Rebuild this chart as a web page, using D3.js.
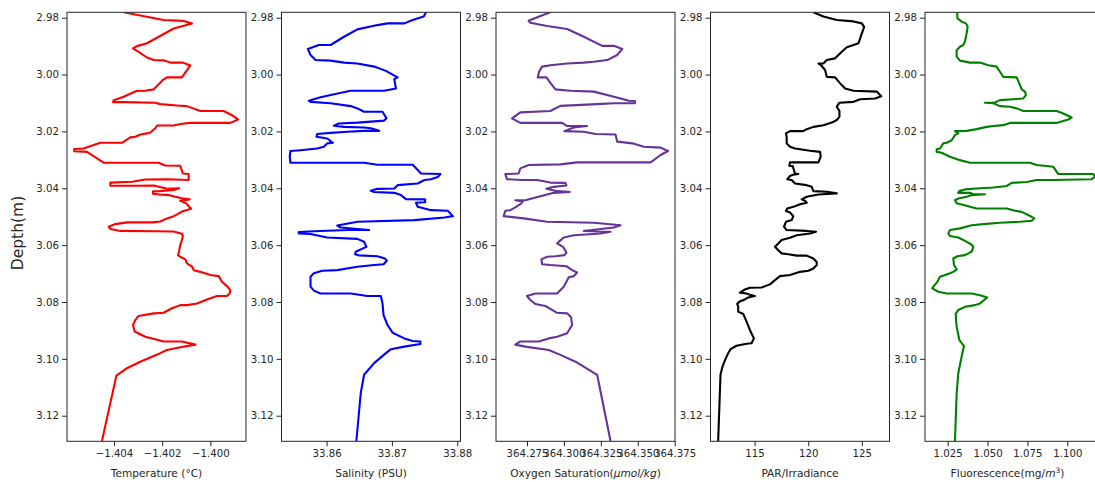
<!DOCTYPE html>
<html>
<head>
<meta charset="utf-8">
<script src="https://cdn.jsdelivr.net/npm/d3@7"></script>
<style>
  html, body { margin: 0; padding: 0; background: #fff; }
  svg { display: block; font-family: "DejaVu Sans", sans-serif; }
</style>
</head>
<body>
<svg id="chart" width="1095" height="482"></svg>
<script>
// ---- data: [depth (m), value] ----
const temperature = [
[2.9781,-1.40360],[2.9808,-1.40194],[2.9811,-1.40114],[2.9820,-1.40076],[2.9838,-1.40152],[2.9890,-1.40263],
[2.9900,-1.40305],[2.9908,-1.40321],[2.9920,-1.40298],[2.9940,-1.40263],[2.9949,-1.40235],[2.9950,-1.40194],
[2.9958,-1.40166],[2.9958,-1.40114],[2.9968,-1.40083],[3.0010,-1.40118],[3.0010,-1.40180],[3.0019,-1.40197],
[3.0052,-1.40235],[3.0057,-1.40270],[3.0058,-1.40307],[3.0078,-1.40360],[3.0090,-1.40401],[3.0097,-1.40404],
[3.0097,-1.40360],[3.0099,-1.40228],[3.0104,-1.40208],[3.0109,-1.40138],[3.0111,-1.40097],[3.0128,-1.40042],
[3.0128,-1.39945],[3.0143,-1.39910],[3.0158,-1.39885],[3.0170,-1.39917],[3.0170,-1.40083],[3.0174,-1.40125],
[3.0179,-1.40152],[3.0179,-1.40221],[3.0189,-1.40228],[3.0204,-1.40249],[3.0207,-1.40263],[3.0211,-1.40291],
[3.0219,-1.40311],[3.0221,-1.40332],[3.0240,-1.40367],[3.0240,-1.40457],[3.0260,-1.40526],[3.0262,-1.40565],
[3.0270,-1.40565],[3.0272,-1.40512],[3.0310,-1.40443],[3.0310,-1.40215],[3.0320,-1.40187],[3.0321,-1.40125],
[3.0348,-1.40114],[3.0350,-1.40090],[3.0371,-1.40090],[3.0368,-1.40180],[3.0369,-1.40270],[3.0377,-1.40325],
[3.0380,-1.40415],[3.0391,-1.40415],[3.0391,-1.40311],[3.0390,-1.40235],[3.0402,-1.40180],[3.0400,-1.40129],
[3.0406,-1.40152],[3.0410,-1.40208],[3.0411,-1.40238],[3.0419,-1.40238],[3.0422,-1.40208],[3.0424,-1.40173],
[3.0430,-1.40145],[3.0435,-1.40118],[3.0439,-1.40086],[3.0444,-1.40125],[3.0453,-1.40100],[3.0472,-1.40080],
[3.0482,-1.40118],[3.0492,-1.40138],[3.0498,-1.40152],[3.0506,-1.40180],[3.0517,-1.40208],[3.0520,-1.40235],
[3.0520,-1.40346],[3.0526,-1.40394],[3.0535,-1.40422],[3.0543,-1.40415],[3.0550,-1.40374],[3.0551,-1.40235],
[3.0552,-1.40152],[3.0560,-1.40118],[3.0567,-1.40114],[3.0582,-1.40118],[3.0600,-1.40125],[3.0618,-1.40129],
[3.0635,-1.40134],[3.0641,-1.40125],[3.0650,-1.40104],[3.0664,-1.40097],[3.0676,-1.40076],[3.0688,-1.40069],
[3.0694,-1.40042],[3.0705,-1.40000],[3.0709,-1.39965],[3.0729,-1.39952],[3.0744,-1.39931],[3.0758,-1.39917],
[3.0770,-1.39920],[3.0779,-1.39931],[3.0779,-1.39972],[3.0791,-1.40014],[3.0805,-1.40055],[3.0811,-1.40097],
[3.0811,-1.40125],[3.0822,-1.40159],[3.0838,-1.40194],[3.0840,-1.40235],[3.0849,-1.40298],[3.0863,-1.40311],
[3.0881,-1.40321],[3.0904,-1.40314],[3.0922,-1.40270],[3.0933,-1.40221],[3.0939,-1.40194],[3.0939,-1.40118],
[3.0950,-1.40062],[3.0959,-1.40125],[3.0969,-1.40180],[3.0980,-1.40208],[3.1010,-1.40291],[3.1033,-1.40346],
[3.1059,-1.40390],[3.1289,-1.40450]
];
const salinity = [
[2.9781,33.87523],[2.9796,33.87487],[2.9808,33.87318],[2.9820,33.87190],[2.9820,33.86933],[2.9826,33.86779],
[2.9841,33.86472],[2.9867,33.86267],[2.9896,33.86062],[2.9896,33.85882],[2.9910,33.85713],[2.9931,33.85754],
[2.9949,33.85831],[2.9951,33.86062],[2.9958,33.86267],[2.9961,33.86472],[2.9972,33.86728],[2.9987,33.86908],
[3.0010,33.87087],[3.0016,33.87036],[3.0049,33.87062],[3.0057,33.86882],[3.0057,33.86369],[3.0072,33.86062],
[3.0080,33.85908],[3.0092,33.85728],[3.0096,33.85754],[3.0101,33.86062],[3.0111,33.86369],[3.0119,33.86472],
[3.0131,33.86574],[3.0131,33.86856],[3.0154,33.86918],[3.0162,33.86882],[3.0169,33.86472],[3.0172,33.86190],
[3.0180,33.86113],[3.0184,33.86267],[3.0186,33.86574],[3.0189,33.86677],[3.0198,33.86805],[3.0198,33.86574],
[3.0201,33.86318],[3.0205,33.86062],[3.0209,33.85856],[3.0219,33.85846],[3.0225,33.86010],[3.0240,33.86097],
[3.0242,33.86010],[3.0254,33.85959],[3.0260,33.85856],[3.0266,33.85600],[3.0269,33.85446],[3.0289,33.85436],
[3.0310,33.85446],[3.0310,33.86574],[3.0317,33.86779],[3.0317,33.87318],[3.0348,33.87446],[3.0350,33.87744],
[3.0360,33.87703],[3.0368,33.87600],[3.0371,33.87497],[3.0383,33.87395],[3.0389,33.87087],[3.0401,33.87036],
[3.0402,33.86779],[3.0409,33.86677],[3.0413,33.86728],[3.0416,33.87036],[3.0424,33.87138],[3.0438,33.87215],
[3.0439,33.87508],[3.0449,33.87508],[3.0451,33.87369],[3.0465,33.87395],[3.0477,33.87600],[3.0479,33.87856],
[3.0498,33.87933],[3.0503,33.87805],[3.0512,33.87344],[3.0518,33.86472],[3.0531,33.86164],[3.0538,33.86215],
[3.0543,33.86472],[3.0547,33.86651],[3.0547,33.86318],[3.0551,33.85805],[3.0554,33.85574],[3.0559,33.85574],
[3.0561,33.85754],[3.0573,33.86010],[3.0578,33.86472],[3.0588,33.86574],[3.0606,33.86610],[3.0615,33.86523],
[3.0623,33.86446],[3.0632,33.86436],[3.0636,33.86497],[3.0639,33.86779],[3.0647,33.86892],[3.0655,33.86923],
[3.0667,33.86872],[3.0670,33.86728],[3.0676,33.86472],[3.0688,33.86164],[3.0690,33.85933],[3.0699,33.85805],
[3.0711,33.85754],[3.0746,33.85754],[3.0760,33.85805],[3.0770,33.85908],[3.0770,33.86369],[3.0779,33.86626],
[3.0779,33.86831],[3.0805,33.86856],[3.0846,33.86872],[3.0881,33.86933],[3.0908,33.87010],[3.0928,33.87190],
[3.0937,33.87318],[3.0939,33.87436],[3.0948,33.87436],[3.0957,33.87190],[3.0966,33.86985],[3.0980,33.86908],
[3.1015,33.86728],[3.1056,33.86574],[3.1121,33.86523],[3.1289,33.86456]
];
const oxygen = [
[2.9781,364.29083],[2.9794,364.28405],[2.9811,364.27613],[2.9818,364.27726],[2.9829,364.28857],[2.9840,364.30214],
[2.9867,364.31345],[2.9899,364.32590],[2.9899,364.33381],[2.9910,364.33947],[2.9931,364.33607],[2.9949,364.32929],
[2.9955,364.32024],[2.9958,364.31345],[2.9961,364.30214],[2.9967,364.29083],[2.9972,364.28518],[2.9990,364.28314],
[3.0010,364.28224],[3.0010,364.28812],[3.0029,364.29083],[3.0052,364.29423],[3.0057,364.30441],[3.0060,364.32024],
[3.0078,364.33381],[3.0092,364.34399],[3.0093,364.34806],[3.0101,364.34806],[3.0101,364.33381],[3.0104,364.32250],
[3.0110,364.29762],[3.0128,364.29083],[3.0133,364.27048],[3.0154,364.26482],[3.0170,364.27048],[3.0170,364.29875],
[3.0181,364.30214],[3.0181,364.31572],[3.0186,364.30667],[3.0199,364.30033],[3.0201,364.31345],[3.0209,364.32137],
[3.0211,364.33494],[3.0236,364.33607],[3.0242,364.34625],[3.0254,364.35417],[3.0257,364.36548],[3.0269,364.37046],
[3.0283,364.36548],[3.0309,364.35869],[3.0309,364.30893],[3.0316,364.29762],[3.0318,364.27613],[3.0330,364.27048],
[3.0348,364.26934],[3.0350,364.26030],[3.0368,364.26143],[3.0371,364.27161],[3.0371,364.28179],[3.0380,364.29083],
[3.0381,364.30101],[3.0390,364.30169],[3.0395,364.29310],[3.0402,364.28812],[3.0409,364.29423],[3.0413,364.30395],
[3.0416,364.29310],[3.0428,364.28405],[3.0442,364.27387],[3.0442,364.26708],[3.0446,364.27229],[3.0456,364.27048],
[3.0467,364.26708],[3.0477,364.26369],[3.0479,364.26030],[3.0498,364.25917],[3.0506,364.27274],[3.0518,364.28857],
[3.0521,364.32024],[3.0530,364.33834],[3.0538,364.33381],[3.0550,364.31345],[3.0553,364.33155],[3.0559,364.32476],
[3.0565,364.30667],[3.0573,364.29988],[3.0585,364.29717],[3.0594,364.29536],[3.0606,364.29943],[3.0627,364.30169],
[3.0635,364.30033],[3.0639,364.29423],[3.0641,364.28857],[3.0650,364.28473],[3.0667,364.28518],[3.0670,364.29083],
[3.0674,364.30169],[3.0688,364.30554],[3.0696,364.30893],[3.0709,364.30667],[3.0713,364.30328],[3.0729,364.30169],
[3.0746,364.29988],[3.0770,364.29536],[3.0770,364.28066],[3.0779,364.27500],[3.0793,364.27726],[3.0807,364.28066],
[3.0814,364.28744],[3.0828,364.29197],[3.0838,364.29536],[3.0840,364.30214],[3.0854,364.30486],[3.0881,364.30554],
[3.0910,364.30214],[3.0922,364.29536],[3.0928,364.28970],[3.0939,364.28292],[3.0939,364.27048],[3.0950,364.26708],
[3.0957,364.27387],[3.0969,364.28970],[3.0986,364.29762],[3.1013,364.30893],[3.1056,364.32250],[3.1289,364.33155]
];
const par = [
[2.9781,120.483],[2.9796,121.418],[2.9808,122.664],[2.9813,124.221],[2.9820,125.000],[2.9832,125.218],
[2.9855,125.000],[2.9890,124.688],[2.9896,124.221],[2.9904,123.598],[2.9920,123.131],[2.9943,122.508],
[2.9949,121.729],[2.9961,121.418],[2.9961,120.950],[2.9970,121.262],[2.9984,121.573],[3.0008,121.729],
[3.0010,122.508],[3.0031,122.975],[3.0049,123.442],[3.0057,124.221],[3.0060,126.402],[3.0076,126.807],
[3.0084,126.246],[3.0087,124.844],[3.0096,124.221],[3.0099,122.913],[3.0113,122.664],[3.0128,122.913],
[3.0148,122.913],[3.0160,122.664],[3.0169,122.196],[3.0178,121.418],[3.0184,120.483],[3.0192,119.860],
[3.0199,119.548],[3.0199,118.302],[3.0207,117.928],[3.0219,117.991],[3.0242,117.991],[3.0254,118.302],
[3.0260,118.770],[3.0268,120.171],[3.0272,121.106],[3.0289,121.168],[3.0309,120.950],[3.0309,118.302],
[3.0321,118.240],[3.0322,118.551],[3.0348,118.770],[3.0350,119.081],[3.0352,118.614],[3.0357,118.302],
[3.0368,118.053],[3.0371,118.458],[3.0383,118.770],[3.0389,119.860],[3.0395,120.327],[3.0410,120.483],
[3.0412,121.729],[3.0418,122.664],[3.0422,120.950],[3.0430,119.860],[3.0439,119.393],[3.0444,119.704],
[3.0451,119.860],[3.0456,119.237],[3.0463,118.770],[3.0471,118.053],[3.0480,117.928],[3.0485,118.302],
[3.0498,118.614],[3.0512,118.458],[3.0518,117.928],[3.0535,117.741],[3.0547,117.991],[3.0550,119.860],
[3.0553,120.732],[3.0559,120.171],[3.0565,118.925],[3.0574,118.302],[3.0582,117.523],[3.0594,117.212],
[3.0606,116.900],[3.0618,117.212],[3.0629,117.523],[3.0632,118.146],[3.0637,118.925],[3.0637,119.860],
[3.0647,120.483],[3.0659,120.794],[3.0670,120.794],[3.0682,120.483],[3.0690,120.016],[3.0694,119.237],
[3.0705,118.302],[3.0709,117.368],[3.0723,116.900],[3.0738,116.433],[3.0749,115.654],[3.0750,114.564],
[3.0756,114.097],[3.0767,113.629],[3.0770,114.252],[3.0775,114.564],[3.0779,115.031],[3.0784,114.408],
[3.0791,114.097],[3.0799,113.567],[3.0807,113.380],[3.0816,113.473],[3.0834,113.473],[3.0842,113.941],
[3.0869,114.252],[3.0904,114.626],[3.0928,114.938],[3.0945,114.720],[3.0947,114.252],[3.0954,113.318],
[3.0966,112.757],[3.0980,112.539],[3.1006,112.227],[3.1027,112.009],[3.1056,111.822],[3.1289,111.604]
];
const fluorescence = [
[2.9781,1.03106],[2.9802,1.03106],[2.9814,1.03377],[2.9820,1.03649],[2.9832,1.03753],[2.9855,1.03691],
[2.9884,1.03586],[2.9896,1.03482],[2.9902,1.03273],[2.9914,1.03064],[2.9937,1.03064],[2.9951,1.03273],
[2.9958,1.03899],[2.9958,1.04526],[2.9967,1.05048],[2.9972,1.05570],[2.9990,1.05779],[3.0008,1.05988],
[3.0010,1.06823],[3.0031,1.06991],[3.0052,1.07137],[3.0060,1.07346],[3.0072,1.07408],[3.0084,1.07241],
[3.0087,1.06615],[3.0090,1.05779],[3.0099,1.05424],[3.0099,1.04839],[3.0101,1.05361],[3.0111,1.05779],
[3.0113,1.06406],[3.0119,1.06823],[3.0128,1.07241],[3.0128,1.09330],[3.0137,1.09747],[3.0151,1.10270],
[3.0158,1.10061],[3.0170,1.09330],[3.0170,1.08703],[3.0170,1.06406],[3.0178,1.05988],[3.0181,1.05361],
[3.0184,1.04944],[3.0192,1.04317],[3.0198,1.03691],[3.0199,1.02959],[3.0207,1.03168],[3.0213,1.02959],
[3.0231,1.02751],[3.0240,1.02437],[3.0242,1.02228],[3.0260,1.02020],[3.0263,1.01811],[3.0272,1.01811],
[3.0275,1.02124],[3.0289,1.02646],[3.0301,1.03273],[3.0310,1.03899],[3.0310,1.07659],[3.0318,1.08077],
[3.0324,1.09121],[3.0350,1.09434],[3.0350,1.11627],[3.0360,1.11732],[3.0368,1.11523],[3.0371,1.09121],
[3.0371,1.08077],[3.0378,1.07450],[3.0381,1.06510],[3.0392,1.06197],[3.0397,1.05361],[3.0401,1.04317],
[3.0404,1.03586],[3.0410,1.03231],[3.0416,1.03168],[3.0416,1.03899],[3.0421,1.04108],[3.0421,1.04839],
[3.0424,1.04004],[3.0430,1.03691],[3.0436,1.03168],[3.0442,1.02959],[3.0453,1.03064],[3.0463,1.03795],
[3.0471,1.04317],[3.0471,1.06197],[3.0479,1.06719],[3.0483,1.07137],[3.0494,1.07554],[3.0506,1.07930],
[3.0514,1.07763],[3.0518,1.07032],[3.0521,1.05779],[3.0526,1.04735],[3.0530,1.04004],[3.0541,1.03273],
[3.0547,1.02646],[3.0559,1.02542],[3.0568,1.02646],[3.0573,1.03168],[3.0585,1.03586],[3.0596,1.03941],
[3.0606,1.04108],[3.0623,1.04004],[3.0635,1.03586],[3.0639,1.03106],[3.0647,1.02855],[3.0670,1.02897],
[3.0685,1.03064],[3.0694,1.02855],[3.0699,1.02646],[3.0705,1.02333],[3.0711,1.02020],[3.0729,1.01853],
[3.0746,1.01602],[3.0752,1.01539],[3.0764,1.01915],[3.0770,1.02437],[3.0770,1.04004],[3.0776,1.04526],
[3.0784,1.04985],[3.0805,1.04526],[3.0811,1.04213],[3.0817,1.03586],[3.0828,1.03168],[3.0842,1.03001],
[3.0887,1.03064],[3.0933,1.03231],[3.0955,1.03523],[3.0992,1.03377],[3.1050,1.03168],[3.1121,1.03064],
[3.1289,1.02959]
];

// tick labels / ranges
const depthTicks = [2.98, 3.00, 3.02, 3.04, 3.06, 3.08, 3.10, 3.12];
const depthDomain = [2.9781, 3.1290];
const tempTicks = [-1.404, -1.402, -1.400];
const salTicks = [33.86, 33.87, 33.88];
const oxyTicks = [364.275, 364.300, 364.325, 364.350, 364.375];
const parTicks = [115, 120, 125];
const fluTicks = [1.025, 1.050, 1.075, 1.100];

const panels = [
  { data: temperature, domain: [-1.40595, -1.39852], ticks: tempTicks, fmt: d3.format(".3f"), color: "#ff0000" },
  { data: salinity, domain: [33.8531, 33.8805], ticks: salTicks, fmt: d3.format(".2f"), color: "#0000ff" },
  { data: oxygen, domain: [364.254, 364.3752], ticks: oxyTicks, fmt: d3.format(".3f"), color: "#663399" },
  { data: par, domain: [110.89, 127.58], ticks: parTicks, fmt: d3.format("d"), color: "#000000" },
  { data: fluorescence, domain: [1.0108, 1.123], ticks: fluTicks, fmt: d3.format(".3f"), color: "#008000" }
];

const svg = d3.select("#chart");
const yTop = 12.3, yBottom = 441.3, pw = 179;
const lefts = [67, 281.5, 496, 710.5, 925];
const textColor = "#262626";

const y = d3.scaleLinear().domain(depthDomain).range([yTop, yBottom]);

panels.forEach((p, i) => {
  const left = lefts[i];
  const x = d3.scaleLinear().domain(p.domain).range([left, left + pw]);
  const g = svg.append("g");

  g.append("clipPath").attr("id", "clip" + i)
    .append("rect").attr("x", left).attr("y", yTop).attr("width", pw).attr("height", yBottom - yTop);

  const line = d3.line().x(d => x(d[1])).y(d => y(d[0]));
  g.append("path")
    .datum(p.data)
    .attr("clip-path", `url(#clip${i})`)
    .attr("fill", "none")
    .attr("stroke", p.color)
    .attr("stroke-width", 2.1)
    .attr("stroke-linejoin", "round")
    .attr("d", line);

  const yAxis = d3.axisLeft(y).tickValues(depthTicks).tickFormat(d3.format(".2f")).tickSize(5).tickPadding(3);
  const ya = g.append("g").attr("transform", `translate(${left},0)`).call(yAxis);
  const xAxis = d3.axisBottom(x).tickValues(p.ticks).tickFormat(p.fmt).tickSize(5).tickPadding(3);
  const xa = g.append("g").attr("transform", `translate(0,${yBottom})`).call(xAxis);
  [ya, xa].forEach(a => {
    a.select(".domain").remove();
    a.selectAll("line").attr("stroke", textColor).attr("stroke-width", 1);
    a.selectAll("text").attr("fill", textColor).style("font-size", "10.2px").style("font-family", "DejaVu Sans");
  });

  g.append("rect")
    .attr("x", left).attr("y", yTop).attr("width", pw).attr("height", yBottom - yTop)
    .attr("fill", "none").attr("stroke", textColor).attr("stroke-width", 1);
});

const labelY = 477;
const cx = i => lefts[i] + pw / 2;
function addLabel(i) {
  return svg.append("text").attr("x", cx(i)).attr("y", labelY)
    .attr("text-anchor", "middle").attr("fill", textColor)
    .style("font-size", "10.6px");
}
addLabel(0).text("Temperature (°C)");
addLabel(1).text("Salinity (PSU)");
const ox = addLabel(2);
ox.append("tspan").text("Oxygen Saturation(");
ox.append("tspan").style("font-style", "italic").text("μmol/kg");
ox.append("tspan").text(")");
addLabel(3).text("PAR/Irradiance");
const fl = svg.append("text").attr("x", 1007.5).attr("y", labelY)
  .attr("text-anchor", "middle").attr("fill", textColor).style("font-size", "10.6px");
fl.append("tspan").text("Fluorescence(mg/");
fl.append("tspan").style("font-style", "italic").text("m");
fl.append("tspan").attr("dy", -4).style("font-size", "7.5px").text("3");
fl.append("tspan").attr("dy", 4).text(")");

svg.append("text")
  .attr("transform", "translate(23,233) rotate(-90)")
  .attr("text-anchor", "middle").attr("fill", textColor)
  .style("font-size", "15.5px")
  .text("Depth(m)");
</script>
</body>
</html>
